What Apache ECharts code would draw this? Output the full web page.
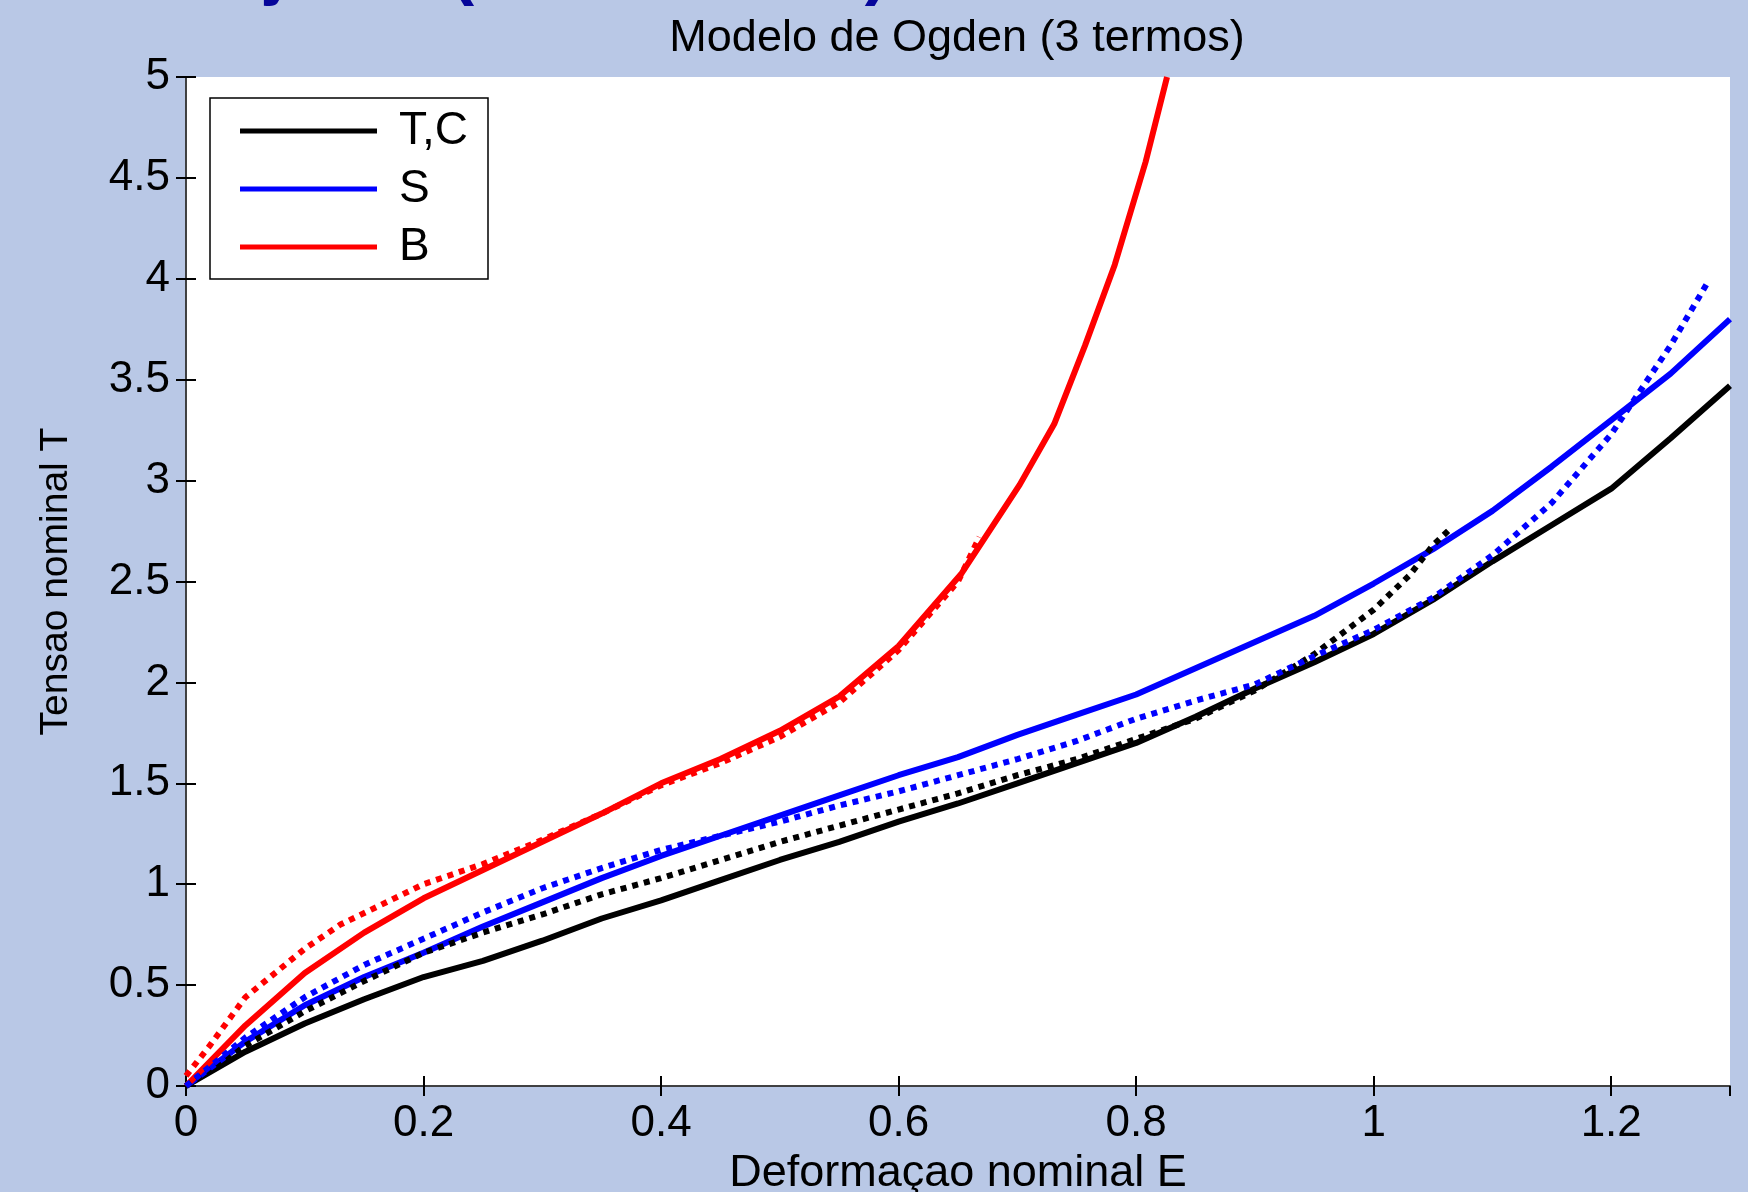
<!DOCTYPE html>
<html>
<head>
<meta charset="utf-8">
<script src="https://cdn.jsdelivr.net/npm/echarts@6/dist/echarts.min.js"></script>
<style>
  html, body { margin: 0; padding: 0; background: #b9c8e6; }
  #chart { width: 1748px; height: 1192px; }
</style>
</head>
<body>
<div id="chart"></div>
<script>
// [deformacao, tensao] pares
const tcFit = [[0,0],[0.05,0.17],[0.1,0.31],[0.15,0.43],[0.2,0.54],[0.25,0.62],[0.3,0.72],[0.35,0.83],
  [0.4,0.92],[0.45,1.02],[0.5,1.12],[0.55,1.21],[0.6,1.31],[0.65,1.40],[0.7,1.50],[0.75,1.60],
  [0.8,1.70],[0.85,1.83],[0.9,1.97],[0.95,2.10],[1.0,2.24],[1.05,2.41],[1.1,2.60],[1.15,2.78],
  [1.2,2.96],[1.25,3.21],[1.3,3.47]];
const tcExp = [[0,0],[0.05,0.2],[0.1,0.37],[0.15,0.52],[0.2,0.66],[0.25,0.76],[0.3,0.85],[0.35,0.95],
  [0.4,1.03],[0.45,1.12],[0.5,1.21],[0.55,1.29],[0.6,1.37],[0.65,1.45],[0.7,1.54],[0.75,1.62],
  [0.8,1.72],[0.85,1.82],[0.9,1.96],[0.95,2.14],[1.0,2.36],[1.03,2.53],[1.05,2.68],[1.066,2.77]];
const sFit = [[0,0],[0.05,0.22],[0.1,0.4],[0.15,0.54],[0.2,0.66],[0.25,0.79],[0.3,0.91],[0.35,1.03],
  [0.4,1.14],[0.45,1.24],[0.5,1.34],[0.55,1.44],[0.6,1.54],[0.65,1.63],[0.7,1.74],[0.75,1.84],
  [0.8,1.94],[0.85,2.07],[0.9,2.20],[0.95,2.33],[1.0,2.49],[1.05,2.66],[1.1,2.85],[1.15,3.07],
  [1.2,3.30],[1.25,3.53],[1.3,3.80]];
const sExp = [[0,0],[0.05,0.24],[0.1,0.44],[0.15,0.6],[0.2,0.73],[0.25,0.86],[0.3,0.98],[0.35,1.08],
  [0.4,1.17],[0.45,1.24],[0.5,1.31],[0.55,1.39],[0.6,1.46],[0.65,1.54],[0.7,1.62],[0.75,1.71],
  [0.8,1.82],[0.85,1.91],[0.9,1.99],[0.95,2.13],[1.0,2.26],[1.05,2.42],[1.1,2.63],[1.15,2.89],
  [1.2,3.23],[1.25,3.67],[1.281,3.98]];
const bFit = [[0,0],[0.05,0.3],[0.1,0.56],[0.15,0.76],[0.2,0.93],[0.25,1.07],[0.3,1.21],[0.35,1.35],
  [0.4,1.5],[0.45,1.62],[0.5,1.76],[0.55,1.93],[0.6,2.18],[0.653,2.54],[0.702,2.98],[0.731,3.28],
  [0.757,3.67],[0.782,4.07],[0.808,4.58],[0.826,5.0]];
const bExp = [[0,0.05],[0.02,0.2],[0.05,0.44],[0.1,0.68],[0.13,0.8],[0.2,1.0],[0.25,1.1],[0.3,1.22],
  [0.35,1.35],[0.4,1.49],[0.45,1.6],[0.5,1.73],[0.55,1.9],[0.6,2.16],[0.65,2.5],[0.668,2.72]];

const legendNames = ['T,C', 'S', 'B'];

const FONT = '"Liberation Sans", Arial, sans-serif';

function solid(name, color, data) {
  return {
    name: name, type: 'line', data: data, showSymbol: false, smooth: false,
    itemStyle: { color: color },
    lineStyle: { color: color, width: 6 }
  };
}
function dotted(name, color, data) {
  return {
    name: name, type: 'line', data: data, showSymbol: false, smooth: false,
    itemStyle: { color: color },
    lineStyle: { color: color, width: 6, type: [6, 6] }
  };
}

const hidden = { show: false };

const option = {
  backgroundColor: '#b9c8e6',
  animation: false,
  textStyle: { fontFamily: FONT },
  title: {
    text: 'Modelo de Ogden (3 termos)',
    left: 952,
    top: 11,
    textAlign: 'center',
    textStyle: { fontSize: 45, fontWeight: 'normal', color: '#000', fontFamily: FONT }
  },
  graphic: [{
    type: 'text',
    style: {
      text: 'Curva de ajuste (linha sólida):',
      x: 912, y: 7,
      textAlign: 'right',
      textVerticalAlign: 'bottom',
      font: 'bold 71px "Liberation Sans", Arial, sans-serif',
      fill: '#06069a'
    }
  }],
  grid: {
    left: 186, right: 18, top: 77, bottom: 106,
    outerBoundsMode: 'none',
    show: true, backgroundColor: '#ffffff', borderWidth: 0
  },
  legend: {
    data: legendNames,
    left: 210, top: 98,
    orient: 'vertical',
    icon: 'rect',
    itemWidth: 137, itemHeight: 5, itemGap: 12,
    padding: [10, 20, 9, 30],
    backgroundColor: '#ffffff',
    borderColor: '#000', borderWidth: 1.5, borderRadius: 0,
    textStyle: { fontSize: 46, color: '#000', lineHeight: 46, padding: [0, 0, 0, 17], fontFamily: FONT }
  },
  xAxis: [{
    type: 'value', position: 'bottom', min: 0, max: 1.3, interval: 0.2,
    name: 'Deformaçao nominal E', nameLocation: 'middle', nameGap: 62,
    nameTextStyle: { fontSize: 45, color: '#000', fontFamily: FONT },
    axisLine: { show: true, lineStyle: { color: '#000', width: 1.5 } },
    axisTick: { show: true, inside: true, length: 10, lineStyle: { color: '#000', width: 2 } },
    axisLabel: { fontSize: 44, color: '#000', margin: 16, showMaxLabel: false, fontFamily: FONT },
    splitLine: hidden
  }, {
    type: 'value', position: 'top', min: 0, max: 1.3, interval: 0.2,
    axisLine: { show: true, lineStyle: { color: '#444', width: 1.5 } },
    axisTick: { show: true, inside: true, length: 10, lineStyle: { color: '#000', width: 2 } },
    axisLabel: hidden, splitLine: hidden
  }],
  yAxis: [{
    type: 'value', position: 'left', min: 0, max: 5, interval: 0.5,
    name: 'Tensao nominal T', nameLocation: 'middle', nameGap: 110,
    nameTextStyle: { fontSize: 39, color: '#000', fontFamily: FONT },
    axisLine: { show: true, lineStyle: { color: '#000', width: 1.5 } },
    axisTick: { show: true, inside: true, length: 10, lineStyle: { color: '#000', width: 2 } },
    axisLabel: { fontSize: 44, color: '#000', margin: 16, fontFamily: FONT },
    splitLine: hidden
  }, {
    type: 'value', position: 'right', min: 0, max: 5, interval: 0.5,
    axisLine: { show: true, lineStyle: { color: '#444', width: 1.5 } },
    axisTick: { show: true, inside: true, length: 10, lineStyle: { color: '#000', width: 2 } },
    axisLabel: hidden, splitLine: hidden
  }],
  series: [
    solid('T,C', '#000000', tcFit),
    solid('S', '#0000ff', sFit),
    solid('B', '#ff0000', bFit),
    dotted('T,C exp', '#000000', tcExp),
    dotted('S exp', '#0000ff', sExp),
    dotted('B exp', '#ff0000', bExp)
  ]
};

const chart = echarts.init(document.getElementById('chart'));
chart.setOption(option);
</script>
</body>
</html>
